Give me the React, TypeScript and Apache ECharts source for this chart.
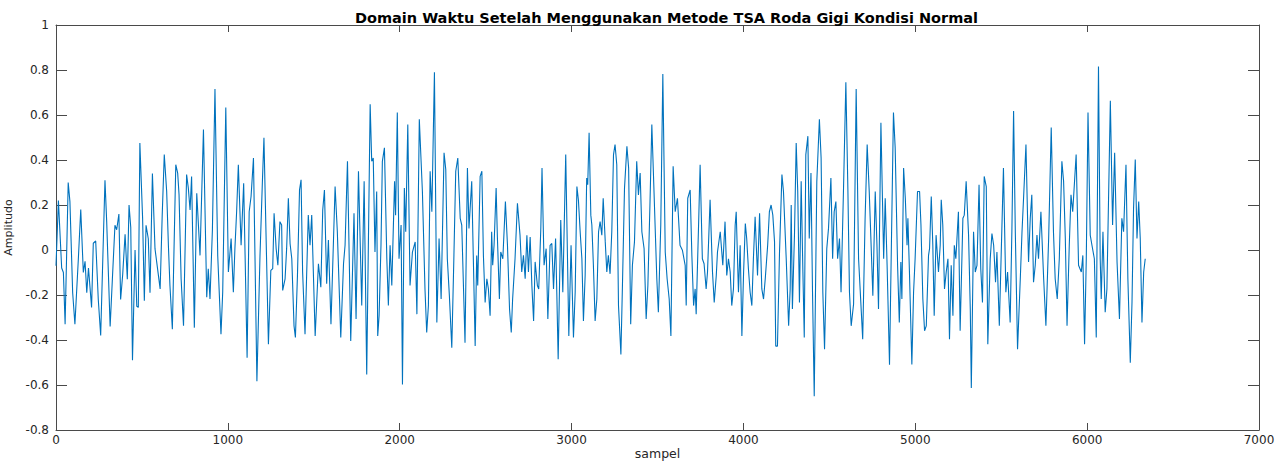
import React, { useEffect, useRef } from "react";
import * as echarts from "echarts";

const TITLE = "Domain Waktu Setelah Menggunakan Metode TSA Roda Gigi Kondisi Normal";
const X_LABEL = "sampel";
const Y_LABEL = "Amplitudo";

// sample index of each read-off point (peaks, troughs and turning points)
const sampleIndex: number[] = [
  0, 14, 33, 43, 53, 71, 81, 97, 110, 130, 144, 159, 169, 179, 189, 207, 217, 231, 246, 260, 285, 295, 315, 328, 343, 353, 366, 376, 388, 402, 415, 425, 435, 445, 460, 470, 479, 488, 504, 514, 524, 537, 547, 561, 576,
  606, 618, 630, 644, 654, 663, 677, 697, 708, 716, 728, 742, 760, 770, 780, 789, 805, 819, 838, 858, 877, 886, 896, 910, 925, 941, 960, 970, 988, 1003, 1019, 1032, 1041, 1051, 1061, 1077, 1092, 1112, 1124, 1135, 1149, 1169, 1187, 1201, 1210,
  1236, 1250, 1261, 1269, 1281, 1291, 1303, 1313, 1319, 1333, 1342, 1352, 1362, 1372, 1385, 1393, 1405, 1417, 1426, 1435, 1449, 1468, 1478, 1488, 1508, 1527, 1541, 1552, 1562, 1575, 1585, 1600, 1624, 1637, 1657, 1673, 1682, 1696, 1715, 1734, 1746, 1760, 1779, 1793, 1808,
  1828, 1837, 1846, 1856, 1866, 1872, 1880, 1891, 1899, 1911, 1925, 1934, 1944, 1954, 1970, 1976, 1986, 1996, 2008, 2016, 2027, 2035, 2047, 2060, 2074, 2090, 2100, 2114, 2132, 2147, 2157, 2167, 2177, 2187, 2202, 2216, 2229, 2241, 2258, 2268, 2277, 2289, 2303, 2315, 2326, 2338, 2352, 2361, 2380, 2394, 2403, 2419, 2439,
  2448, 2454, 2468, 2478, 2487, 2497, 2507, 2516, 2526, 2535, 2541, 2549, 2561, 2568, 2580, 2588, 2600, 2615, 2627, 2639, 2649, 2657, 2671, 2685, 2700, 2710, 2720, 2730, 2740, 2749, 2759, 2769, 2779, 2788, 2801, 2809, 2821, 2828, 2840, 2852, 2862, 2875, 2885, 2895, 2907, 2914, 2922, 2937, 2949, 2966, 2984, 2997, 3011, 3021, 3031, 3040,
  3050, 3060, 3069, 3079, 3088, 3094, 3102, 3112, 3118, 3127, 3137, 3147, 3157, 3166, 3176, 3184, 3196, 3205, 3214, 3224, 3234, 3244, 3253, 3263, 3273, 3287, 3296, 3308, 3322, 3332, 3344, 3354, 3366, 3379, 3389, 3399, 3409, 3422, 3434, 3444, 3456, 3467, 3480, 3496, 3505, 3519, 3531, 3545, 3556, 3568, 3578, 3591, 3603, 3616, 3631, 3645,
  3661, 3667, 3676, 3690, 3700, 3710, 3719, 3725, 3739, 3748, 3761, 3771, 3783, 3791, 3806, 3820, 3830, 3842, 3849, 3865, 3880, 3893, 3903, 3913, 3923, 3932, 3942, 3952, 3958, 3971, 3981, 3991, 4001, 4011, 4019, 4029, 4039, 4049, 4058, 4068, 4082, 4094, 4107, 4117, 4127, 4141, 4151, 4161, 4171, 4181, 4188, 4198, 4210, 4224, 4233, 4249, 4263,
  4272, 4278, 4285, 4297, 4307, 4316, 4326, 4336, 4346, 4354, 4363, 4375, 4383, 4393, 4402, 4412, 4427, 4442, 4452, 4462, 4472, 4485, 4495, 4509, 4519, 4528, 4538, 4548, 4559, 4568, 4582, 4596, 4608, 4617, 4627, 4641, 4656, 4670, 4686, 4694, 4708, 4720, 4732, 4743, 4753, 4767, 4777, 4786, 4800, 4816, 4825, 4836, 4850, 4873,
  4883, 4889, 4897, 4907, 4916, 4922, 4932, 4942, 4952, 4957, 4966, 4980, 4990, 4999, 5013, 5025, 5033, 5044, 5054, 5064, 5077, 5083, 5093, 5102, 5110, 5121, 5135, 5145, 5151, 5160, 5170, 5180, 5190, 5199, 5209, 5219, 5227, 5236, 5251, 5261, 5277, 5285, 5296, 5310, 5320, 5326, 5339, 5349, 5359, 5371, 5381, 5391, 5401, 5413, 5422, 5436, 5446, 5456, 5467, 5475, 5489,
  5513, 5527, 5537, 5552, 5562, 5572, 5582, 5595, 5611, 5621, 5630, 5644, 5653, 5659, 5669, 5678, 5688, 5698, 5708, 5717, 5731, 5747, 5760, 5776, 5791, 5804, 5814, 5826, 5838, 5853, 5863, 5873, 5883, 5896, 5906, 5916, 5936, 5950, 5966, 5975, 5985, 5995, 6005, 6018, 6028, 6042, 6053, 6066, 6076, 6082, 6092, 6105, 6115, 6135, 6148, 6160, 6174, 6188, 6202, 6212, 6226, 6237, 6251, 6261, 6270, 6280, 6290, 6300, 6309, 6319, 6329, 6338,
];

// amplitude at each of the points above
const amplitude: number[] = [
  -0.07, 0.22, -0.08, -0.1, -0.33, 0.3, 0.215, -0.19, -0.33, -0.04, 0.18, -0.1, -0.05, -0.19, -0.08, -0.255, 0.03, 0.04, -0.22, -0.38, 0.31, 0.125, -0.34, -0.13, 0.11, 0.09, 0.16, -0.22, -0.11, 0.07, -0.13, 0.2, 0.1, -0.49, 0.0, -0.25, -0.255, 0.476, 0.14, -0.225, 0.11, 0.05, -0.19, 0.34, 0.006,
  -0.173, 0.155, 0.424, 0.26, 0.021, -0.158, -0.352, 0.379, 0.342, 0.245, -0.128, -0.337, 0.335, 0.275, 0.178, 0.327, -0.345, 0.252, -0.024, 0.536, -0.21, -0.083, -0.218, 0.088, 0.715, -0.024, -0.374, -0.188, 0.633, -0.098, 0.051, -0.188, 0.006, 0.17, 0.379, 0.021, 0.297, -0.479, 0.17, 0.238, 0.409, -0.583, -0.024, 0.305, 0.499,
  -0.419, -0.091, -0.083, 0.163, 0.006, -0.068, 0.126, 0.111, -0.18, -0.128, 0.006, 0.23, 0.029, -0.039, -0.337, -0.389, -0.113, 0.267, 0.312, -0.098, -0.374, 0.155, 0.021, 0.155, -0.382, -0.061, -0.165, 0.178, 0.267, -0.15, 0.044, -0.33, 0.282, 0.081, -0.389, -0.061, 0.021, 0.394, -0.404, 0.163, -0.307, 0.35, -0.247, 0.305, -0.553,
  0.648, 0.394, 0.409, -0.009, 0.26, -0.382, -0.292, 0.021, 0.394, 0.454, -0.039, -0.247, 0.021, -0.158, 0.305, 0.155, 0.611, -0.039, 0.111, -0.598, 0.275, 0.081, 0.558, -0.158, -0.009, 0.036, -0.285, 0.581, 0.26, -0.173, -0.367, -0.247, 0.35, 0.17, 0.79, -0.322, 0.051, -0.218, 0.432, 0.357, -0.039, -0.203, -0.434, -0.039, 0.35, 0.409, 0.141, 0.111, -0.412, 0.364, 0.096, 0.305, -0.427,
  -0.024, -0.158, 0.327, 0.35, -0.024, -0.233, -0.128, -0.173, -0.292, 0.081, -0.068, 0.021, 0.275, 0.066, -0.218, -0.009, -0.039, 0.215, 0.021, -0.262, -0.367, -0.218, -0.039, 0.208, 0.066, -0.098, -0.024, -0.128, 0.066, -0.098, 0.058, -0.158, -0.315, -0.053, -0.158, -0.173, 0.096, 0.364, -0.068, 0.006, -0.307, 0.021, 0.029, -0.173, 0.051, -0.188, -0.486, 0.133, -0.188, 0.424, -0.382, 0.021, -0.389, -0.188, 0.282, 0.22,
  0.081, -0.039, -0.315, -0.113, 0.32, 0.29, 0.521, 0.155, 0.111, -0.068, -0.315, -0.218, 0.081, 0.126, 0.066, 0.23, 0.036, -0.098, -0.024, -0.106, 0.081, 0.424, 0.469, 0.379, -0.247, -0.464, -0.158, 0.275, 0.461, 0.364, -0.33, -0.068, 0.036, 0.394, 0.245, 0.342, 0.081, 0.006, -0.307, -0.158, 0.2, 0.558, 0.252, -0.128, -0.277, 0.111, 0.782, -0.009, -0.128, -0.218, -0.382, 0.372, 0.17, 0.23, 0.021, -0.001,
  -0.068, -0.247, 0.23, 0.267, -0.024, -0.247, -0.173, -0.285, 0.111, 0.379, -0.039, -0.061, -0.173, -0.098, 0.223, -0.098, -0.233, -0.113, -0.009, 0.081, -0.068, 0.126, -0.113, -0.039, -0.098, -0.247, -0.173, 0.111, 0.17, -0.188, 0.021, -0.382, -0.098, 0.118, 0.051, -0.083, -0.188, -0.247, -0.039, 0.148, -0.113, 0.163, -0.173, -0.218, -0.128, 0.021, 0.17, 0.2, 0.155, 0.036, -0.427, -0.427, -0.009, 0.335, 0.26, -0.039, -0.337,
  -0.173, 0.2, -0.262, 0.066, 0.476, 0.26, -0.233, 0.305, -0.098, -0.389, 0.424, 0.506, 0.051, 0.342, -0.188, -0.65, 0.305, 0.581, 0.409, -0.188, -0.441, 0.006, 0.096, 0.32, -0.039, 0.17, 0.215, -0.039, 0.051, -0.188, 0.26, 0.745, 0.26, -0.188, -0.337, -0.24, 0.715, -0.039, -0.277, -0.397, 0.141, 0.469, 0.26, 0.021, -0.203, 0.26, 0.021, -0.262, 0.566, -0.039, 0.23, -0.068, -0.51, 0.611,
  0.454, 0.23, -0.068, -0.322, -0.053, -0.218, 0.364, 0.23, 0.021, 0.141, -0.098, -0.509, -0.188, -0.039, 0.26, 0.26, 0.111, -0.218, -0.359, -0.337, -0.024, 0.006, 0.238, 0.021, -0.292, 0.066, -0.098, 0.021, 0.223, 0.111, -0.173, -0.098, -0.039, -0.397, -0.068, -0.292, 0.021, -0.039, 0.17, -0.359, 0.141, 0.155, 0.305, 0.066, -0.262, -0.613, 0.081, -0.098, -0.068, 0.29, -0.083, -0.233, 0.327, 0.282, -0.419, -0.039, 0.073, 0.021, -0.143, -0.009, -0.337,
  0.364, -0.188, -0.098, -0.322, 0.081, 0.618, 0.081, -0.441, -0.128, 0.081, 0.23, 0.469, 0.155, -0.053, 0.141, 0.245, -0.143, -0.068, 0.066, -0.039, 0.17, -0.128, -0.337, 0.051, 0.544, 0.081, -0.128, -0.218, -0.039, 0.394, 0.305, 0.051, -0.337, 0.021, 0.245, 0.17, 0.424, -0.068, -0.098, -0.024, -0.419, -0.039, 0.611, 0.066, 0.021, -0.039, -0.389, 0.815, -0.039, -0.218, 0.081, -0.277, -0.173, 0.663, 0.111, 0.432, -0.053, -0.307, 0.141, 0.081, 0.379, -0.128, -0.501, -0.233, 0.185, 0.402, 0.051, 0.215, 0.051, -0.322, -0.098, -0.039,
];

const X_MIN = 0;
const X_MAX = 7000;
const X_STEP = 1000;
const Y_MIN = -0.8;
const Y_MAX = 1;
const Y_STEP = 0.2;

const FONT = "DejaVu Sans";
const AXIS_COLOR = "#4a4a4a";
const TEXT_COLOR = "#262626";
const LINE_COLOR = "#0072BD";

const GRID_LEFT = 56;
const GRID_RIGHT = 19;

export default function App() {
  const ref = useRef<HTMLDivElement>(null);

  useEffect(() => {
    if (!ref.current) return;
    const chart = echarts.init(ref.current, undefined, { renderer: "svg" });
    const n = Math.min(sampleIndex.length, amplitude.length);
    const data: [number, number][] = [];
    for (let i = 0; i < n; i++) data.push([sampleIndex[i], amplitude[i]]);

    const axisLine = { show: true, onZero: false, lineStyle: { color: AXIS_COLOR, width: 1 } };
    const tickStyle = { color: AXIS_COLOR, width: 1 };
    const plotCenter = GRID_LEFT + (1278 - GRID_LEFT - GRID_RIGHT) / 2;

    chart.setOption({
      animation: false,
      backgroundColor: "#ffffff",
      title: {
        text: TITLE,
        left: plotCenter + 4,
        textAlign: "center",
        top: 5,
        textStyle: { fontFamily: FONT, fontWeight: "bold", fontSize: 14.5, color: "#000" },
      },
      grid: {
        left: GRID_LEFT,
        right: GRID_RIGHT,
        top: 25,
        bottom: 31,
        containLabel: false,
        outerBoundsMode: "none",
      },
      xAxis: [
        {
          type: "value",
          position: "bottom",
          min: X_MIN,
          max: X_MAX,
          interval: X_STEP,
          name: X_LABEL,
          nameLocation: "middle",
          nameGap: 17,
          nameMoveOverlap: false,
          nameTextStyle: { fontFamily: FONT, fontSize: 12.5, color: TEXT_COLOR, lineHeight: 13 },
          axisLine,
          axisTick: { show: true, inside: true, length: 7, lineStyle: tickStyle },
          axisLabel: {
            margin: 4,
            fontFamily: FONT,
            fontSize: 12,
            color: TEXT_COLOR,
            formatter: (v: number) => String(v),
          },
          splitLine: { show: false },
        },
        {
          type: "value",
          position: "top",
          min: X_MIN,
          max: X_MAX,
          interval: X_STEP,
          axisLine,
          axisTick: { show: true, inside: true, length: 7, lineStyle: tickStyle },
          axisLabel: { show: false },
          splitLine: { show: false },
        },
      ],
      yAxis: [
        {
          type: "value",
          position: "left",
          min: Y_MIN,
          max: Y_MAX,
          interval: Y_STEP,
          name: Y_LABEL,
          nameLocation: "middle",
          nameGap: 41,
          nameMoveOverlap: false,
          nameTextStyle: { fontFamily: FONT, fontSize: 11, color: TEXT_COLOR, lineHeight: 13 },
          axisLine,
          axisTick: { show: true, inside: true, length: 11, lineStyle: tickStyle },
          axisLabel: { margin: 7, fontFamily: FONT, fontSize: 12, color: TEXT_COLOR },
          splitLine: { show: false },
        },
        {
          type: "value",
          position: "right",
          min: Y_MIN,
          max: Y_MAX,
          interval: Y_STEP,
          axisLine,
          axisTick: { show: true, inside: true, length: 11, lineStyle: tickStyle },
          axisLabel: { show: false },
          splitLine: { show: false },
        },
      ],
      series: [
        {
          type: "line",
          xAxisIndex: 0,
          yAxisIndex: 0,
          data,
          symbol: "none",
          showSymbol: false,
          lineStyle: { color: LINE_COLOR, width: 1.1 },
        },
      ],
    });

    return () => chart.dispose();
  }, []);

  return (
    <div
      ref={ref}
      style={{ position: "fixed", left: 0, top: 0, width: 1278, height: 461, background: "#fff" }}
    />
  );
}
